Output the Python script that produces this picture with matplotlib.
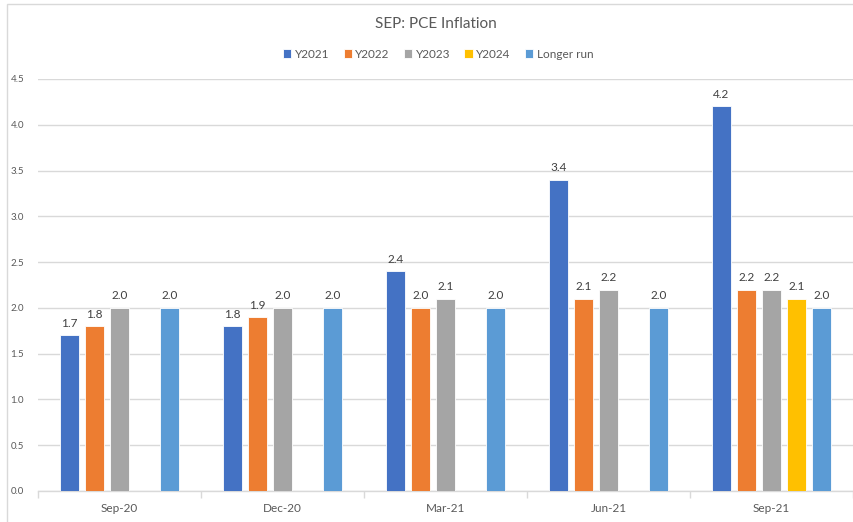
import matplotlib
matplotlib.use("Agg")
import matplotlib.pyplot as plt
import numpy as np
from matplotlib.patches import Rectangle

# Data
categories = ["Sep-20", "Dec-20", "Mar-21", "Jun-21", "Sep-21"]
series_names = ["Y2021", "Y2022", "Y2023", "Y2024", "Longer run"]
y2021 = [1.7, 1.8, 2.4, 3.4, 4.2]
y2022 = [1.8, 1.9, 2.0, 2.1, 2.2]
y2023 = [2.0, 2.0, 2.1, 2.2, 2.2]
y2024 = [None, None, None, None, 2.1]
longer_run = [2.0, 2.0, 2.0, 2.0, 2.0]
y_ticks = [0.0, 0.5, 1.0, 1.5, 2.0, 2.5, 3.0, 3.5, 4.0, 4.5]

colors = ["#4472C4", "#ED7D31", "#A5A5A5", "#FFC000", "#5B9BD5"]
text_color = "#595959"
grid_color = "#D9D9D9"

plt.rcParams["font.family"] = ["Lato", "DejaVu Sans"]

W, H = 854, 522
fig = plt.figure(figsize=(W / 100, H / 100), dpi=100)

# outer chart frame
fig.patches.append(Rectangle((7 / W, -0.05), 1.1, (H - 4) / H + 0.05,
                             transform=fig.transFigure, fill=False,
                             edgecolor="#D9D9D9", linewidth=1.0))

ax = fig.add_axes([38 / W, (H - 491) / H, (853 - 38) / W, (491 - 79) / H])

x = np.arange(len(categories))
slot = 25 / 163
bar_w = 19.5 / 163
all_series = [y2021, y2022, y2023, y2024, longer_run]

for k, (name, vals, col) in enumerate(zip(series_names, all_series, colors)):
    xs, hs = [], []
    for i, v in enumerate(vals):
        if v is not None:
            xs.append(x[i] + (k - 2) * slot)
            hs.append(v)
    ax.bar(xs, hs, width=bar_w, color=col, edgecolor="white",
           linewidth=0.6, label=name, zorder=3)
    for bx, h in zip(xs, hs):
        ax.text(bx, h + 0.07, f"{h:.1f}", ha="center", va="bottom",
                fontsize=8.5, color="#404040")

ax.set_xlim(-0.5, len(categories) - 0.5)
ax.set_ylim(0, 4.5)
ax.set_yticks(y_ticks)
ax.set_yticklabels([f"{t:.1f}" for t in y_ticks], fontsize=7, color=text_color)
ax.yaxis.grid(True, color=grid_color, linewidth=1.0, zorder=0)
ax.tick_params(axis="y", length=0, pad=10)

ax.set_xticks(x)
ax.set_xticklabels(categories, fontsize=8.5, color=text_color)
ax.tick_params(axis="x", which="major", length=0, pad=9)
ax.set_xticks(np.arange(-0.5, len(categories)), minor=True)
ax.tick_params(axis="x", which="minor", length=5, color=grid_color, width=1.0)

for side in ["top", "right", "left"]:
    ax.spines[side].set_visible(False)
ax.spines["bottom"].set_color(grid_color)
ax.spines["bottom"].set_linewidth(1.0)

fig.text(0.51, (H - 24) / H, "SEP: PCE Inflation", ha="center", va="center",
         fontsize=11, color=text_color)

handles, labels = ax.get_legend_handles_labels()
fig.legend(handles, labels, loc="center", bbox_to_anchor=(0.513, (H - 54) / H),
           ncol=5, frameon=False, fontsize=8.5, handlelength=0.7,
           handleheight=0.7, handletextpad=0.3, columnspacing=1.2,
           labelcolor=text_color)

fig.savefig("out.png", dpi=100, facecolor="white")
